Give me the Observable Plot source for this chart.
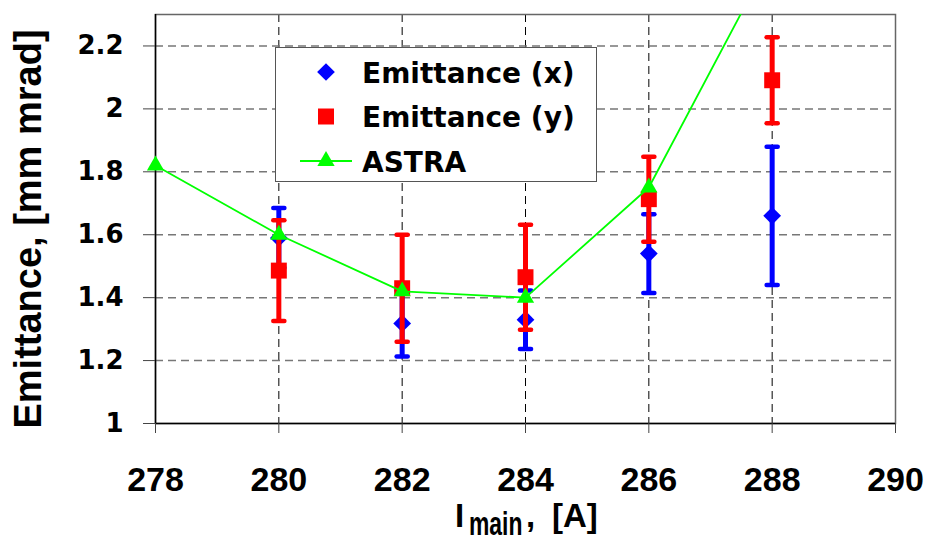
<!DOCTYPE html>
<html>
<head>
<meta charset="utf-8">
<script src="https://cdn.jsdelivr.net/npm/d3@7"></script>
<script src="https://cdn.jsdelivr.net/npm/@observablehq/plot@0.6"></script>
<style>
  html, body { margin: 0; padding: 0; background: #fff; }
  #wrap { position: relative; width: 927px; height: 541px; overflow: hidden; }
  #ytitle { position: absolute; left: 28px; top: 229px; transform: translate(-50%, -50%) rotate(-90deg);
    font: bold 38px "Liberation Sans", Arial, sans-serif; white-space: nowrap; color: #000; }
  #xtitle { position: absolute; left: 440px; top: 490px; }
  #xtitle text { font-family: "Liberation Sans", Arial, sans-serif; font-weight: bold; font-size: 33px; fill: #000; }
  #xtitle text.sub { font-size: 22px; }
  #legend { position: absolute; left: 275px; top: 47px; width: 320px; height: 133px;
    border: 1.5px solid #555; background: #fff; }
</style>
</head>
<body>
<div id="wrap">
  <div id="chart"></div>
  <div id="ytitle">Emittance, [mm mrad]</div>
  <svg id="xtitle" width="185" height="51">
    <text x="15" y="36.5">I</text>
    <text class="sub" transform="translate(29,44.5) scale(1.04,1.55)">main</text>
    <text x="86" y="36.5">,</text>
    <text x="112" y="36.5">[A]</text>
  </svg>
  <div id="legend"></div>
</div>
<script>
// ---- data ----
const current = [280, 282, 284, 286, 288];
const emitX = [1.59, 1.318, 1.33, 1.54, 1.66];
const errX = [0.095, 0.105, 0.093, 0.125, 0.22];
const emitY = [1.486, 1.43, 1.465, 1.713, 2.091];
const errY = [0.16, 0.17, 0.167, 0.135, 0.137];
const astraCurrent = [276, 278, 280, 282, 284, 286, 288];
const astraEmit = [2.06, 1.82, 1.60, 1.42, 1.40, 1.75, 2.49];
const xTicks = [278, 280, 282, 284, 286, 288, 290];
const yTicks = [1, 1.2, 1.4, 1.6, 1.8, 2, 2.2];
const seriesNames = ["Emittance (x)", "Emittance (y)", "ASTRA"];

const xDomain = [278, 290];
const yDomain = [1, 2.3];
const capHalf = 0.09;

const sx = current.map((c, i) => ({x: c, y: emitX[i], e: errX[i]}));
const sy = current.map((c, i) => ({x: c, y: emitY[i], e: errY[i]}));
const astra = astraCurrent.map((c, i) => ({x: c, y: astraEmit[i]}));
const astraVisible = astra.filter(d => d.x >= xDomain[0] && d.x <= xDomain[1] && d.y <= yDomain[1]);

const caps = s => s.flatMap(d => [{x: d.x, y: d.y + d.e}, {x: d.x, y: d.y - d.e}]);

function errMarks(s, color, symbol, r) {
  return [
    Plot.ruleX(s, {x: "x", y1: d => d.y - d.e, y2: d => d.y + d.e, stroke: color, strokeWidth: 5}),
    Plot.link(caps(s), {x1: d => d.x - capHalf, x2: d => d.x + capHalf, y1: "y", y2: "y",
      stroke: color, strokeWidth: 4.5, strokeLinecap: "round"}),
    Plot.dot(s, {x: "x", y: "y", symbol, r, fill: color, stroke: "none"})
  ];
}

const chart = Plot.plot({
  width: 927,
  height: 541,
  marginLeft: 155,
  marginRight: 32,
  marginTop: 14,
  marginBottom: 118,
  style: {background: "#fff", color: "#000"},
  x: {domain: xDomain},
  y: {domain: yDomain},
  marks: [
    Plot.gridX(xTicks.slice(1, -1), {stroke: "#000", strokeOpacity: 1, strokeWidth: 1, strokeDasharray: "8,5"}),
    Plot.gridY(yTicks.slice(1), {stroke: "#777", strokeOpacity: 1, strokeWidth: 1.5, strokeDasharray: "8,5"}),
    Plot.frame({stroke: "#666", strokeWidth: 1.5}),
    Plot.ruleX([xDomain[0]], {stroke: "#000", strokeWidth: 1.5}),
    Plot.ruleY([yDomain[0]], {stroke: "#000", strokeWidth: 1.5}),
    Plot.axisX(xTicks, {tickSize: 10, tickPadding: 33, fontSize: 34, fontWeight: "bold",
      fontFamily: "Liberation Sans, Arial, sans-serif", label: null, stroke: "#444", tickFormat: d => String(d)}),
    Plot.axisY(yTicks, {tickSize: 12, tickPadding: 20, fontSize: 26, fontWeight: "bold",
      fontFamily: "DejaVu Sans, sans-serif", label: null, stroke: "#444", tickFormat: d => String(d)}),
    ...errMarks(sx, "#0000ff", "diamond2", 8),
    ...errMarks(sy, "#ff0000", "square", 9),
    Plot.line(astra, {x: "x", y: "y", stroke: "#00ff00", strokeWidth: 1.8, clip: true}),
    Plot.dot(astraVisible, {x: "x", y: "y", symbol: "triangle", r: 6.4, fill: "#00ff00", stroke: "none"})
  ]
});
document.getElementById("chart").appendChild(chart);

// ---- legend ----
const lg = d3.select("#legend").append("svg").attr("width", 320).attr("height", 133)
  .style("position", "absolute").style("left", 0).style("top", 0);
const rows = [
  {name: seriesNames[0], color: "#0000ff", sym: d3.symbolDiamond2, size: 200, line: false},
  {name: seriesNames[1], color: "#ff0000", sym: d3.symbolSquare, size: 256, line: false},
  {name: seriesNames[2], color: "#00ff00", sym: d3.symbolTriangle, size: 129, line: true}
];
rows.forEach((r, i) => {
  const cy = 24 + i * 44.5;
  const g = lg.append("g").attr("transform", `translate(50,${cy})`);
  if (r.line) g.append("line").attr("x1", -26).attr("x2", 26).attr("stroke", r.color).attr("stroke-width", 1.8);
  g.append("path").attr("d", d3.symbol(r.sym, r.size)()).attr("fill", r.color);
  lg.append("text").attr("x", 86).attr("y", cy + 10.5)
    .attr("font-family", "DejaVu Sans, sans-serif").attr("font-weight", "bold").attr("font-size", 28)
    .attr("fill", "#000").text(r.name);
});
</script>
</body>
</html>
